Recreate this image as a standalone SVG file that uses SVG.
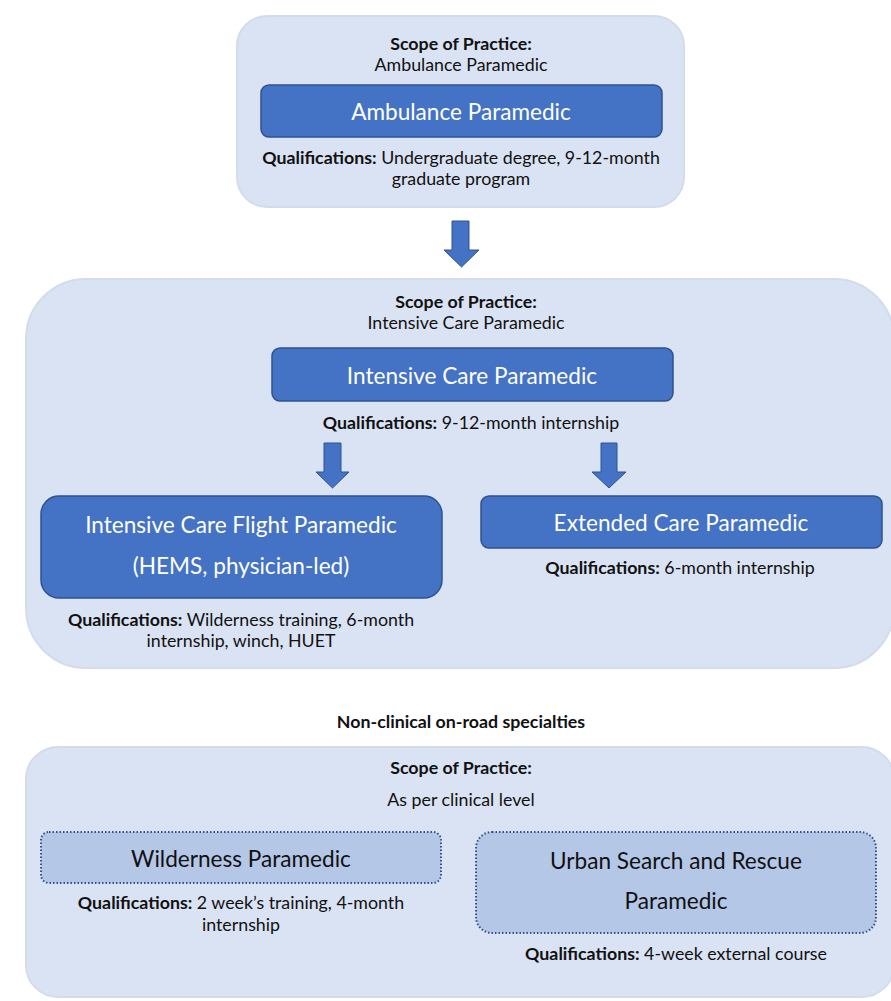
<svg xmlns="http://www.w3.org/2000/svg" width="891" height="1001" viewBox="0 0 891 1001">
<style>
.outer{fill:#dae3f3;stroke:#d3dcea;stroke-width:2}
.blue{fill:#4472c4;stroke:#2f528f;stroke-width:1.5}
.dot{fill:#b4c7e7;stroke:#2f528f;stroke-width:2;stroke-dasharray:1.5 2}
.arrow{fill:#4472c4;stroke:#2f528f;stroke-width:1}
text{font-family:Lato,"Liberation Sans",sans-serif;text-anchor:middle;fill:#111}
.t{font-size:17.8px}
.b{font-weight:bold}
.w{font-size:22.6px;fill:#fff}
.k{font-size:22.6px;fill:#111}
</style>
<rect width="891" height="1001" fill="#fff"/>
<g id="scope-ambulance">
<rect class="outer" x="237" y="16" width="447" height="191" rx="30"/>
<text class="t b" x="461" y="50">Scope of Practice:</text>
<text class="t" x="461" y="71">Ambulance Paramedic</text>
</g>
<g id="ambulance-paramedic">
<rect class="blue" x="261" y="85" width="401" height="52" rx="8"/>
<text class="w" x="461" y="120">Ambulance Paramedic</text>
<text class="t" x="461" y="164"><tspan class="b">Qualifications:</tspan> Undergraduate degree, 9-12-month</text>
<text class="t" x="461" y="185">graduate program</text>
</g>
<g id="scope-icp">
<rect class="outer" x="26" y="279" width="868" height="389" rx="60"/>
<text class="t b" x="466" y="308">Scope of Practice:</text>
<text class="t" x="466" y="329">Intensive Care Paramedic</text>
</g>
<g id="intensive-care-paramedic">
<rect class="blue" x="272" y="348" width="401" height="53" rx="8"/>
<text class="w" x="472" y="384">Intensive Care Paramedic</text>
<text class="t" x="471" y="429"><tspan class="b">Qualifications:</tspan> 9-12-month internship</text>
</g>
<g id="flight-paramedic">
<rect class="blue" x="41" y="496" width="401" height="102" rx="18"/>
<text class="w" x="241" y="533">Intensive Care Flight Paramedic</text>
<text class="w" x="241" y="574">(HEMS, physician-led)</text>
<text class="t" x="241" y="626"><tspan class="b">Qualifications:</tspan> Wilderness training, 6-month</text>
<text class="t" x="241" y="647">internship, winch, HUET</text>
</g>
<g id="extended-care-paramedic">
<rect class="blue" x="481" y="496" width="401" height="52" rx="8"/>
<text class="w" x="681" y="531">Extended Care Paramedic</text>
<text class="t" x="680" y="574"><tspan class="b">Qualifications:</tspan> 6-month internship</text>
</g>
<g id="non-clinical-label">
<text class="t b" x="461" y="728">Non-clinical on-road specialties</text>
</g>
<g id="scope-nonclinical">
<rect class="outer" x="26" y="747" width="868" height="250" rx="32"/>
<text class="t b" x="461" y="774">Scope of Practice:</text>
<text class="t" x="461" y="806">As per clinical level</text>
</g>
<g id="wilderness-paramedic">
<rect class="dot" x="41" y="832" width="400" height="51" rx="8"/>
<text class="k" x="241" y="867">Wilderness Paramedic</text>
<text class="t" x="241" y="909"><tspan class="b">Qualifications:</tspan> 2 week’s training, 4-month</text>
<text class="t" x="241" y="931">internship</text>
</g>
<g id="usar-paramedic">
<rect class="dot" x="476" y="832" width="400" height="101" rx="16"/>
<text class="k" x="676" y="869">Urban Search and Rescue</text>
<text class="k" x="676" y="909">Paramedic</text>
<text class="t" x="676" y="960"><tspan class="b">Qualifications:</tspan> 4-week external course</text>
</g>
<g id="connectors">
<path class="arrow" d="M452,221 H469 V250 H479 L461.5,267 L444,250 H452 Z"/>
<path class="arrow" d="M324,443 H341 V472 H349 L332.5,488 L316,472 H324 Z"/>
<path class="arrow" d="M601,443 H617 V472 H626 L609,488 L592,472 H601 Z"/>
</g>
</svg>
